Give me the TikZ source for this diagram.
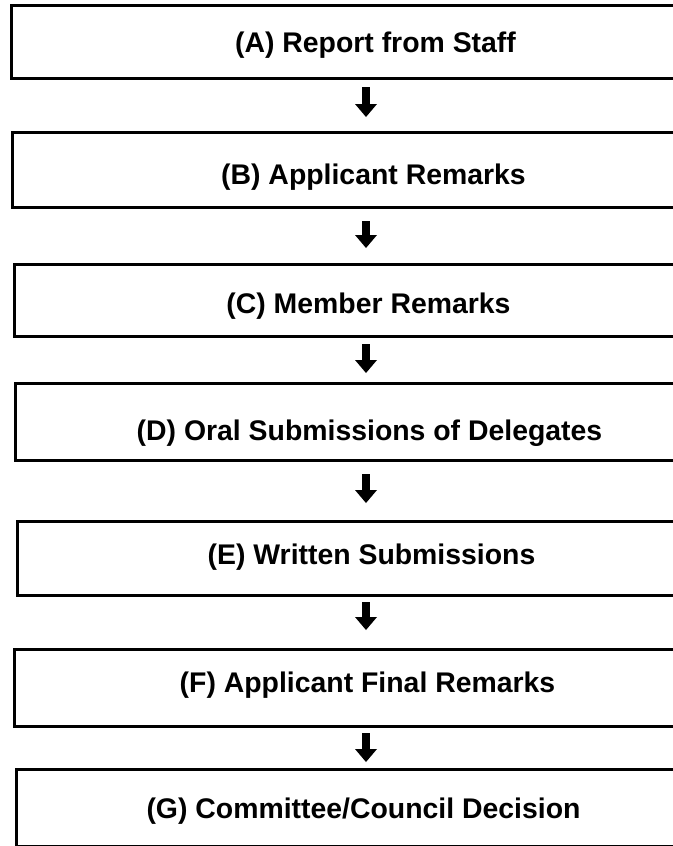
\documentclass[tikz,border=0pt]{standalone}
\usepackage{fontspec}
\setmainfont{Liberation Sans}
\usetikzlibrary{arrows.meta}
\begin{document}
\begin{tikzpicture}[x=0.5pt, y=-0.5pt,
    stagebox/.style={draw, line width=1.5pt, anchor=west, inner sep=0pt, font=\bfseries\fontsize{14.2}{17}\selectfont},
    textdrop/.style={text height=#1, text depth=3pt},
    flowarrow/.style={line width=4pt, -{Triangle[width=11pt,length=6.5pt,line width=0pt]}}]
    \useasboundingbox (0,0) rectangle (673,846);
    \clip (0,0) rectangle (673,846);
    \coordinate (axis) at (366,0);
    \node[stagebox, minimum width=364pt, minimum height=36.5pt, textdrop=13.2pt] (A) at (10,42) {(A) Report from Staff};
    \node[stagebox, minimum width=361pt, minimum height=37.5pt, textdrop=17.2pt] (B) at (11,170) {(B) Applicant Remarks};
    \node[stagebox, minimum width=354pt, minimum height=36pt, textdrop=16.2pt] (C) at (13,300.5) {(C) Member Remarks};
    \node[stagebox, minimum width=354pt, minimum height=38.5pt, textdrop=21.2pt] (D) at (14,422) {(D) Oral Submissions of Delegates};
    \node[stagebox, minimum width=354pt, minimum height=37pt, textdrop=9.2pt] (E) at (16,558.5) {(E) Written Submissions};
    \node[stagebox, minimum width=353pt, minimum height=38.5pt, textdrop=7.2pt] (F) at (13,688) {(F) Applicant Final Remarks};
    \node[stagebox, minimum width=347pt, minimum height=38.5pt, textdrop=13.2pt] (G) at (15,808) {(G) Committee/Council Decision};
    \foreach \u/\v/\s/\e in {A/B/3.5/7, B/C/6/7.5, C/D/3/4.5, D/E/6/8.5, E/F/2.5/9, F/G/2.5/3}
    \draw[flowarrow, shorten <=\s pt, shorten >=\e pt] (axis |- \u.south) -- (axis |- \v.north);
\end{tikzpicture}
\end{document}
